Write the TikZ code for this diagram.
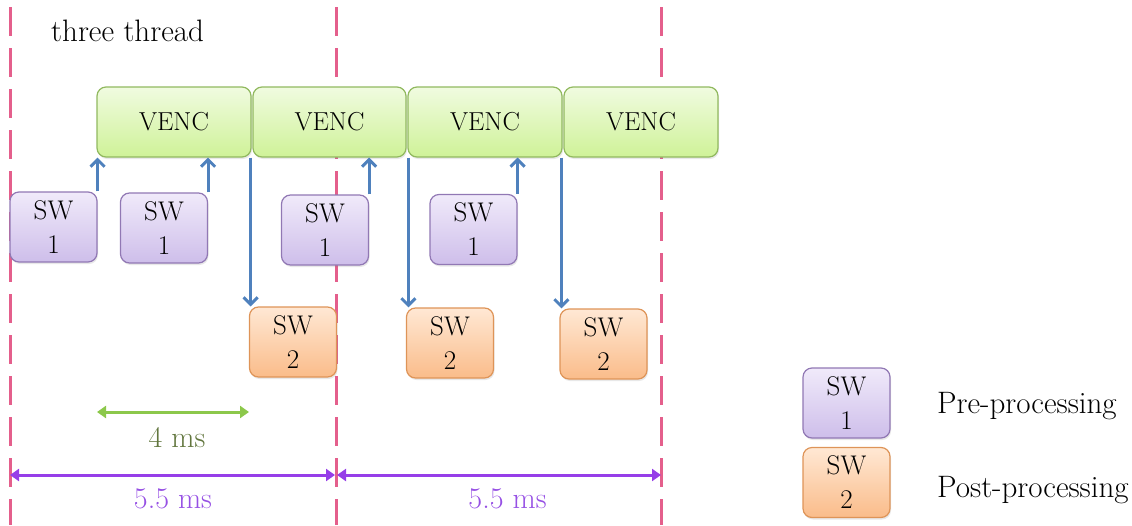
\documentclass[tikz,border=0pt]{standalone}
\usepackage{fontspec}
\usetikzlibrary{arrows.meta,shadows}
\definecolor{pinkline}{RGB}{228,95,140}
\definecolor{arrblue}{RGB}{79,129,189}
\definecolor{vtop}{RGB}{240,251,224}
\definecolor{vbot}{RGB}{207,242,152}
\definecolor{vborder}{RGB}{145,185,95}
\definecolor{p1top}{RGB}{240,234,250}
\definecolor{p1bot}{RGB}{206,190,234}
\definecolor{p1border}{RGB}{145,120,180}
\definecolor{o2top}{RGB}{255,232,212}
\definecolor{o2bot}{RGB}{250,188,138}
\definecolor{o2border}{RGB}{222,148,88}
\definecolor{greenarr}{RGB}{140,200,75}
\definecolor{greentxt}{RGB}{98,118,62}
\definecolor{purparr}{RGB}{150,62,232}
\definecolor{purptxt}{RGB}{150,80,228}
\tikzset{
  boxbase/.style={rectangle, rounded corners=9pt, line width=1.2pt, inner sep=0pt,
    drop shadow={opacity=0.18, shadow xshift=1pt, shadow yshift=-2pt}},
  vencbox/.style={boxbase, draw=vborder, top color=vtop, bottom color=vbot,
    minimum width=153pt, minimum height=70pt, font=\fontsize{26}{26}\selectfont},
  swone/.style={boxbase, draw=p1border, top color=p1top, bottom color=p1bot,
    minimum width=87pt, minimum height=70pt, align=center, font=\fontsize{27}{34}\selectfont},
  swtwo/.style={boxbase, draw=o2border, top color=o2top, bottom color=o2bot,
    minimum width=87pt, minimum height=70pt, align=center, font=\fontsize{27}{34}\selectfont},
  guide/.style={pinkline, line width=3pt, dash pattern=on 29pt off 12pt},
  flow/.style={arrblue, line width=3pt, -{Straight Barb[length=7pt,width=14pt]}},
  dimgreen/.style={greenarr, line width=3pt, {Triangle[length=9pt,width=12pt]}-{Triangle[length=9pt,width=12pt]}},
  dimpurple/.style={purparr, line width=3pt, {Triangle[length=9pt,width=12pt]}-{Triangle[length=9pt,width=12pt]}},
  lbl/.style={inner sep=0pt, font=\fontsize{30}{30}\selectfont},
  legtxt/.style={inner sep=0pt, anchor=base west, font=\fontsize{31}{31}\selectfont}
}
\begin{document}
\begin{tikzpicture}[x=1pt,y=-1pt]
\useasboundingbox (0,0) rectangle (1132,525);
% guide lines
\coordinate (g1t) at (10,7);   \coordinate (g1b) at (10,525);
\coordinate (g2t) at (336,7);  \coordinate (g2b) at (336,525);
\coordinate (g3t) at (661,7);  \coordinate (g3b) at (661,525);
\draw[guide] (g1t) -- (g1b);
\draw[guide] (g2t) -- (g2b);
\draw[guide] (g3t) -- (g3b);

\node[inner sep=0pt, anchor=base west, font=\fontsize{31}{31}\selectfont] (title) at (51,41) {three thread};

% VENC
\node[vencbox, minimum width=154pt] (v1) at (174,122) {VENC};
\node[vencbox] (v2) at (329.5,122) {VENC};
\node[vencbox, minimum width=154pt] (v3) at (485,122) {VENC};
\node[vencbox, minimum width=154pt] (v4) at (641,122) {VENC};

% SW1
\node[swone] (s1a) at (53.5,227) {SW\\1};
\node[swone] (s1b) at (164,228) {SW\\1};
\node[swone] (s1c) at (325,230) {SW\\1};
\node[swone] (s1d) at (473.5,229.5) {SW\\1};

% SW2
\node[swtwo] (s2a) at (293,342) {SW\\2};
\node[swtwo] (s2b) at (450,343) {SW\\2};
\node[swtwo] (s2c) at (603.5,344) {SW\\2};

% up arrows
\draw[flow] (s1a.north east) -- (s1a.north east |- v1.south);
\draw[flow] (s1b.north east) -- (s1b.north east |- v1.south);
\draw[flow] (s1c.north east) -- (s1c.north east |- v2.south);
\draw[flow] (s1d.north east) -- (s1d.north east |- v3.south);

% down arrows
\draw[flow] ([xshift=-1pt]v1.south east) -- ([xshift=-1pt]v1.south east |- s2a.north);
\draw[flow] ([xshift=1pt]v3.south west) -- ([xshift=1pt]v3.south west |- s2b.north);
\draw[flow] ([xshift=-2pt]v4.south west) -- ([xshift=-2pt]v4.south west |- s2c.north);

% 4 ms
\coordinate (ga) at (97,412);
\coordinate (gb) at (249,412);
\draw[dimgreen] (ga) -- (gb);
\node[lbl, anchor=base, text=greentxt] (t4) at (177,447) {4 ms};

% 5.5 ms
\coordinate (pa) at (g1t |- 0,475);
\coordinate (pb) at (g2t |- 0,475);
\coordinate (pc) at (g3t |- 0,475);
\draw[dimpurple] (pa) -- ([xshift=-1pt]pb);
\draw[dimpurple] ([xshift=1pt]pb) -- (pc);
\node[lbl, anchor=base, text=purptxt] (t55a) at (173,508) {5.5 ms};
\node[lbl, anchor=base, text=purptxt] (t55b) at (507.5,508) {5.5 ms};

% legend
\node[swone] (ls1) at (846.5,403) {SW\\1};
\node[swtwo] (ls2) at (846.5,482.5) {SW\\2};
\node[legtxt] (lt1) at (937,413) {Pre-processing};
\node[legtxt] (lt2) at (937,497) {Post-processing};
\end{tikzpicture}
\end{document}
